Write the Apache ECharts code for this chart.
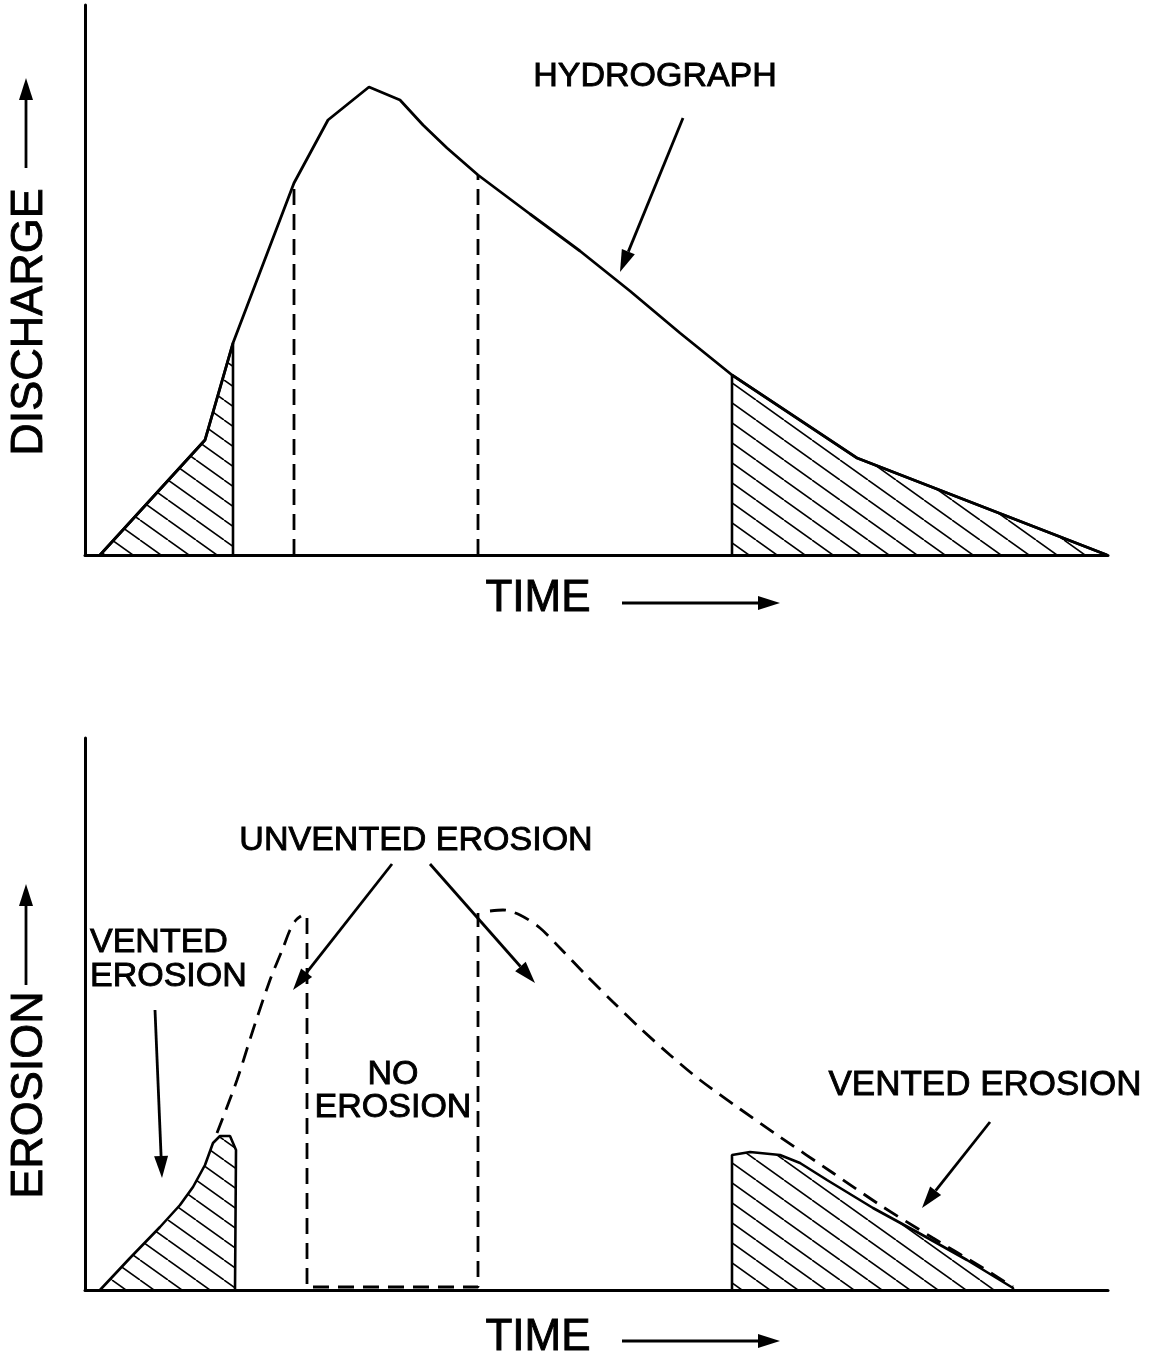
<!DOCTYPE html>
<html>
<head>
<meta charset="utf-8">
<script src="https://cdn.jsdelivr.net/npm/echarts@6/dist/echarts.min.js"></script>
<style>
  html, body { margin: 0; padding: 0; background: #fff; }
  #main { width: 1150px; height: 1359px; }
</style>
</head>
<body>
<div id="main"></div>
<script>
// time / discharge / erosion in arbitrary units
var hydrograph = [[15,0],[120,115],[148,212],[209,372],[243,435],[284,468],[315,455],[338,430],
  [362,407],[393,380],[445,341],[495,304],[545,264],[595,222],[647,180],[772,97],[1022,0]];
var ventedRise = [[15,0],[120,115],[148,212],[148,0]];
var ventedFall = [[647,0],[647,180],[772,97],[1022,0]];
var cutOn = [[209,0],[209,372]];
var cutOff = [[393,0],[393,380]];

var erosionRise = [[15,0],[45,32],[75,63],[95,85],[108,103],[120,125],[128,147],[135,154],
  [145,154],[151,140],[150,0]];
var unventedRise = [[132,157],[152,210],[168,260],[185,310],[198,342],[205,360],[211,370],[216,374]];
var noErosionBox = [[222,372],[222,3],[393,3],[393,377]];
var unventedFall = [[405,379],[418,380],[435,375],[455,362],[475,342],[500,316],[528,288],
  [555,262],[585,235],[615,210],[655,181],[695,153],[748,117],[795,85],[848,52],[898,22],[928,3]];
var erosionFall = [[647,0],[647,135],[665,138],[695,135],[715,127],[742,110],[788,82],
  [832,58],[882,30],[928,2],[928,0]];

var chart = echarts.init(document.getElementById('main'));

// hatch tile
var tile = document.createElement('canvas');
tile.width = 28; tile.height = 20;
var g = tile.getContext('2d');
g.strokeStyle = '#000';
g.lineWidth = 1.6;
[-28, 0, 28].forEach(function (dx) {
  g.beginPath();
  g.moveTo(dx, 0);
  g.lineTo(dx + 28, 20);
  g.stroke();
});
var hatch = { image: tile, repeat: 'repeat' };

var FONT = '"Liberation Sans", Arial, sans-serif';

function axis(max) {
  return {
    type: 'value', min: 0, max: max,
    axisLine: { show: true, onZero: false, lineStyle: { color: '#000', width: 3 } },
    axisTick: { show: false }, axisLabel: { show: false }, splitLine: { show: false }
  };
}

function line(data, xi, dashed, smooth) {
  return {
    type: 'line', data: data, xAxisIndex: xi, yAxisIndex: xi,
    symbol: 'none', smooth: smooth || false, silent: true,
    lineStyle: { color: '#000', width: 2.8, type: dashed ? [16, 9] : 'solid' }
  };
}

function area(data, xi) {
  var s = line(data, xi, false);
  s.lineStyle.width = 2.6;
  s.areaStyle = { color: hatch, opacity: 1 };
  return s;
}

function txt(x, y, s, size, rot, align) {
  return {
    type: 'text', x: x, y: y, rotation: rot || 0,
    style: { text: s, fill: '#000', stroke: '#000', lineWidth: 0.9,
      font: size + 'px ' + FONT,
      align: align || 'center', verticalAlign: 'middle' }
  };
}

function arrow(x1, y1, x2, y2) {
  var a = Math.atan2(y2 - y1, x2 - x1), L = 22, W = 7;
  var bx = x2 - L * Math.cos(a), by = y2 - L * Math.sin(a);
  var px = -Math.sin(a) * W, py = Math.cos(a) * W;
  return [
    { type: 'line', shape: { x1: x1, y1: y1, x2: bx, y2: by }, style: { stroke: '#000', lineWidth: 2.8 } },
    { type: 'polygon', shape: { points: [[x2, y2], [bx + px, by + py], [bx - px, by - py]] },
      style: { fill: '#000' } }
  ];
}

var graphics = [].concat(
  txt(30, 322, 'DISCHARGE', 45, Math.PI / 2),
  arrow(26, 168, 26, 78),
  txt(538, 599, 'TIME', 44),
  arrow(622, 603, 780, 603),
  txt(655, 77, 'HYDROGRAPH', 34),
  arrow(683, 118, 620, 272),

  txt(30, 1095, 'EROSION', 45, Math.PI / 2),
  arrow(26, 985, 26, 884),
  txt(538, 1338, 'TIME', 44),
  arrow(622, 1341, 780, 1341),
  txt(416, 841, 'UNVENTED EROSION', 34),
  arrow(392, 864, 293, 990),
  arrow(430, 864, 535, 983),
  txt(90, 943, 'VENTED', 34, 0, 'left'),
  txt(90, 977, 'EROSION', 34, 0, 'left'),
  arrow(155, 1010, 162, 1178),
  txt(393, 1075, 'NO', 34),
  txt(393, 1108, 'EROSION', 34),
  txt(985, 1085, 'VENTED EROSION', 35),
  arrow(990, 1122, 922, 1208)
);

chart.setOption({
  animation: false,
  backgroundColor: '#fff',
  grid: [
    { left: 85, top: 5, width: 1023, height: 550 },
    { left: 85, top: 738, width: 1023, height: 552 }
  ],
  xAxis: [Object.assign(axis(1023), { gridIndex: 0 }), Object.assign(axis(1023), { gridIndex: 1 })],
  yAxis: [Object.assign(axis(550), { gridIndex: 0 }), Object.assign(axis(552), { gridIndex: 1 })],
  series: [
    area(ventedRise, 0),
    area(ventedFall, 0),
    line(hydrograph, 0, false),
    line(cutOn, 0, true),
    line(cutOff, 0, true),
    area(erosionRise, 1),
    area(erosionFall, 1),
    line(unventedRise, 1, true, 0.3),
    line(noErosionBox, 1, true),
    line(unventedFall, 1, true, 0.3)
  ],
  graphic: graphics
});
</script>
</body>
</html>
